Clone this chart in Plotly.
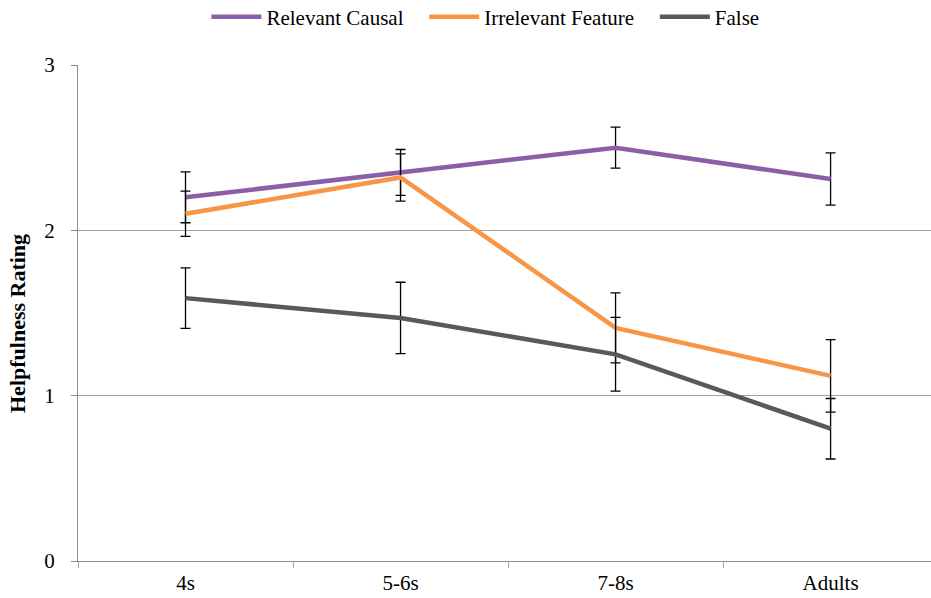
import plotly.graph_objects as go

categories = ["4s", "5-6s", "7-8s", "Adults"]
relevant_causal = [2.20, 2.35, 2.50, 2.31]
relevant_causal_err = [0.154, 0.139, 0.124, 0.158]
irrelevant_feature = [2.10, 2.32, 1.41, 1.12]
irrelevant_feature_err = [0.137, 0.143, 0.212, 0.219]
false_vals = [1.59, 1.47, 1.25, 0.80]
false_err = [0.183, 0.216, 0.223, 0.183]

series = [
    ("Relevant Causal", relevant_causal, relevant_causal_err, "#8b5ea8"),
    ("Irrelevant Feature", irrelevant_feature, irrelevant_feature_err, "#f79646"),
    ("False", false_vals, false_err, "#595959"),
]

FONT = "Liberation Serif"
PAD = "\u00a0" * 3

fig = go.Figure()
for name, vals, errs, color in series:
    fig.add_trace(go.Scatter(
        x=categories, y=vals, name=name + PAD, mode="lines",
        line=dict(color=color, width=4.5),
        error_y=dict(type="data", array=errs, visible=True, color="black",
                     thickness=1.3, width=5),
    ))

fig.update_layout(
    width=931, height=598,
    margin=dict(l=78, r=0, t=65, b=37),
    paper_bgcolor="white", plot_bgcolor="white",
    font=dict(family=FONT, size=21, color="black"),
    legend=dict(orientation="h", xref="container", yref="container",
                x=0.53, xanchor="center", y=1 - 17 / 598, yanchor="middle",
                itemwidth=50,
                font=dict(family=FONT, size=21, color="black"),
                bgcolor="rgba(0,0,0,0)"),
    showlegend=True,
)
fig.update_xaxes(
    type="category", range=[-0.5, 3.467],
    showgrid=False, showline=True, linecolor="#8c8c8c", linewidth=1.3,
    ticks="outside", tickson="boundaries", ticklen=6, tickcolor="#a6a6a6",
    ticklabelstandoff=3,
    tickfont=dict(family=FONT, size=21, color="black"),
    zeroline=False,
)
fig.update_yaxes(
    range=[0, 3], tickvals=[0, 1, 2, 3],
    showgrid=True, gridcolor="#a0a0a0", gridwidth=1,
    showline=True, linecolor="#8c8c8c", linewidth=1.3,
    ticks="outside", ticklen=6, tickcolor="#8c8c8c",
    ticklabelstandoff=12,
    tickfont=dict(family=FONT, size=21, color="black"),
    zeroline=False,
)
fig.add_annotation(
    text="<b>Helpfulness Rating</b>", textangle=-90,
    xref="paper", yref="paper", x=(17 - 78) / 853, y=(561 - 324) / 496,
    xanchor="center", yanchor="middle", showarrow=False,
    font=dict(family=FONT, size=22, color="black"),
)

fig.write_html("out.html")
